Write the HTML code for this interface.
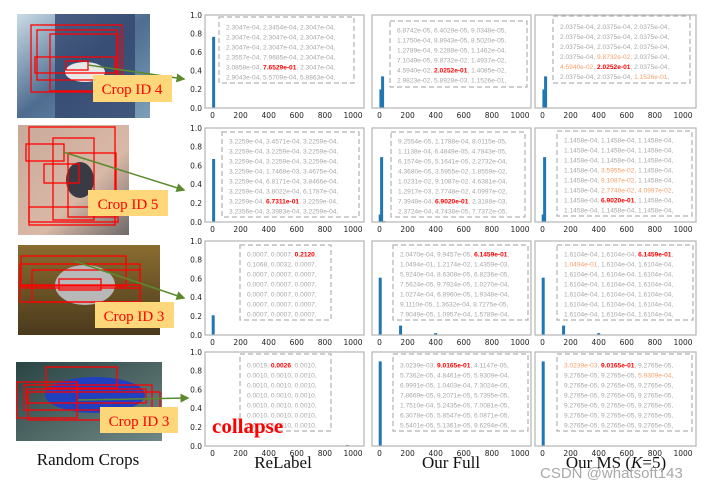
<!DOCTYPE html>
<html><head><meta charset="utf-8">
<style>
html,body{margin:0;padding:0;background:#fff;}
body{width:714px;height:487px;position:relative;overflow:hidden;font-family:"Liberation Sans",sans-serif;}
svg{position:absolute;left:0;top:0;}
</style></head>
<body>
<svg id="fig" width="714" height="487" viewBox="0 0 714 487" xmlns="http://www.w3.org/2000/svg">
<defs>
<linearGradient id="g1" x1="0" y1="0" x2="1" y2="1"><stop offset="0" stop-color="#c9dbe6"/><stop offset="0.5" stop-color="#4d6c8f"/><stop offset="1" stop-color="#7d9fb8"/></linearGradient>
<linearGradient id="g2" x1="0" y1="0" x2="1" y2="1"><stop offset="0" stop-color="#c9a99a"/><stop offset="0.6" stop-color="#d9b8a6"/><stop offset="1" stop-color="#6e6a6a"/></linearGradient>
<linearGradient id="g3" x1="0" y1="0" x2="0" y2="1"><stop offset="0" stop-color="#8a6c30"/><stop offset="1" stop-color="#4a3a1c"/></linearGradient>
<linearGradient id="g4" x1="0" y1="0" x2="1" y2="1"><stop offset="0" stop-color="#2a4444"/><stop offset="1" stop-color="#6f8784"/></linearGradient>
<marker id="arr" markerWidth="6" markerHeight="6" refX="5" refY="3" orient="auto"><path d="M0,0 L6,3 L0,6 z" fill="#5b8a2e"/></marker>
</defs>

<g>
<rect x="17" y="14" width="133" height="104" fill="url(#g1)"/>
<rect x="55" y="14" width="80" height="104" fill="#33466e" opacity="0.8"/>
<ellipse cx="85" cy="72" rx="20" ry="10" fill="#e8e8e8"/>
<g fill="none" stroke="#f00" stroke-width="1.3">
<rect x="31" y="25" width="91" height="67"/><rect x="37" y="30" width="80" height="50"/><rect x="50" y="34" width="68" height="57"/><rect x="35" y="57" width="80" height="16"/><rect x="66" y="61" width="22" height="9"/></g>
</g>
<g>
<rect x="18" y="125" width="111" height="110" fill="url(#g2)"/>
<ellipse cx="80" cy="180" rx="14" ry="18" fill="#3a3a44"/>
<g fill="none" stroke="#f00" stroke-width="1.3">
<rect x="29" y="127" width="86" height="98"/><rect x="53" y="138" width="41" height="82"/><rect x="68" y="153" width="48" height="64"/><rect x="26" y="144" width="38" height="17"/><rect x="44" y="164" width="35" height="19"/><rect x="29" y="207" width="89" height="15"/></g>
</g>
<g>
<rect x="18" y="245" width="142" height="90" fill="url(#g3)"/>
<ellipse cx="85" cy="285" rx="30" ry="20" fill="#b8b8b8"/>
<g fill="none" stroke="#f00" stroke-width="1.3">
<rect x="21" y="256" width="105" height="30"/><rect x="20" y="264" width="120" height="38"/><rect x="32" y="270" width="108" height="32"/><rect x="59" y="279" width="42" height="11"/><rect x="22" y="285" width="118" height="3"/></g>
</g>
<g>
<rect x="16" y="362" width="146" height="79" fill="url(#g4)"/>
<ellipse cx="95" cy="395" rx="50" ry="18" fill="#2040c0"/>
<g fill="none" stroke="#f00" stroke-width="1.3">
<rect x="46" y="367" width="71" height="21"/><rect x="17" y="382" width="60" height="36"/><rect x="24" y="385" width="128" height="25"/><rect x="27" y="389" width="119" height="14"/><rect x="28" y="392" width="132" height="28"/></g>
</g>

<g stroke="#5b8a2e" stroke-width="1.5" fill="none">
<line x1="88" y1="65" x2="184" y2="79" marker-end="url(#arr)"/>
<line x1="63" y1="152" x2="184" y2="190" marker-end="url(#arr)"/>
<line x1="74" y1="261" x2="184" y2="298" marker-end="url(#arr)"/>
<line x1="78" y1="400" x2="188" y2="398" marker-end="url(#arr)"/>
</g>

<g font-family="Liberation Serif, serif" font-size="15" fill="#f00">
<rect x="93" y="75" width="79" height="27" fill="#fdd77a"/>
<text x="132" y="94" text-anchor="middle">Crop ID 4</text>
<rect x="88" y="190" width="80" height="26" fill="#fdd77a"/>
<text x="128" y="209" text-anchor="middle">Crop ID 5</text>
<rect x="95" y="302" width="79" height="26" fill="#fdd77a"/>
<text x="134" y="321" text-anchor="middle">Crop ID 3</text>
<rect x="100" y="407" width="78" height="26" fill="#fdd77a"/>
<text x="139" y="426" text-anchor="middle">Crop ID 3</text>
</g>

<g id="charts"></g>
<g id="boxes"></g>

<text x="212" y="433" font-family="Liberation Serif, serif" font-weight="bold" font-size="21" fill="#f00">collapse</text>

<g font-family="Liberation Serif, serif" font-size="17" fill="#111" text-anchor="middle">
<text x="88" y="465">Random Crops</text>
<text x="283" y="468">ReLabel</text>
<text x="451" y="468">Our Full</text>
<text x="616" y="468">Our MS (<tspan font-style="italic">K</tspan>=5)</text>
</g>
<text x="540" y="478" font-family="Liberation Sans, sans-serif" font-size="15" fill="#9a9a9a" opacity="0.85">CSDN @whatsoft143</text>
</svg>

<script>
const xTicks = [0, 200, 400, 600, 800, 1000];
const yTicks = [0.0, 0.2, 0.4, 0.6, 0.8, 1.0];
const relabelBins = [[8], [8], [5], [230, 920, 960]];
const relabelVals = [[0.765], [0.67], [0.21], [0.005, 0.005, 0.01]];
const fullBins = [[10, 22, 100, 340], [5, 15, 30], [5, 150, 400], [5]];
const fullVals = [[0.2, 0.34, 0.005, 0.005], [0.08, 0.69, 0.01], [0.61, 0.1, 0.02], [0.90]];
const msBins = [[10, 22], [5, 15], [5, 150, 400], [5]];
const msVals = [[0.2, 0.34], [0.08, 0.69], [0.61, 0.1, 0.02], [0.90]];

const NS = "http://www.w3.org/2000/svg";
const colLeft = [205, 372, 535];
const colRight = [364, 531, 696];
const rowTop = [15, 128, 241, 352];
const rowBot = [108, 222, 335, 446];
const g = document.getElementById('charts');
function mk(tag, attrs, parent) { const e = document.createElementNS(NS, tag); for (const k in attrs) e.setAttribute(k, attrs[k]); parent.appendChild(e); return e; }
function xScale(c, v) { return colLeft[c] + 7.5 + v * 0.1405; }
function yScale(r, v) { return rowBot[r] - v * (rowBot[r] - rowTop[r]); }
const binsByCol = [relabelBins, fullBins, msBins];
const valsByCol = [relabelVals, fullVals, msVals];
const colNames = ['relabel', 'full', 'ms'];
for (let r = 0; r < 4; r++) {
  for (let c = 0; c < 3; c++) {
    const pg = mk('g', {}, g);
    
    
    const bins = binsByCol[c][r], vals = valsByCol[c][r];
    for (let i = 0; i < bins.length; i++) {
      const y = yScale(r, vals[i]);
      const b = mk('rect', { x: xScale(c, bins[i]) - 1.5, y: y, width: 3, height: Math.max(rowBot[r] - y, 0.6), fill: '#1f77b4' }, pg);
      
      
    }
    const fr = mk('rect', { x: colLeft[c], y: rowTop[r], width: colRight[c] - colLeft[c], height: rowBot[r] - rowTop[r], fill: 'none', stroke: '#b5b5b5', 'stroke-width': 1.2 }, pg);
    
    
    xTicks.forEach(t => {
      const tx = mk('text', { x: xScale(c, t), y: rowBot[r] + 10, 'font-size': 7.5, 'font-family': 'DejaVu Sans, sans-serif', fill: '#222', 'text-anchor': 'middle' }, pg);
      tx.textContent = t;
      
      
    });
    if (c === 0) {
      yTicks.forEach(t => {
        const ty = mk('text', { x: 202, y: yScale(r, t) + 2.8, 'font-size': 7.5, 'font-family': 'DejaVu Sans, sans-serif', fill: '#222', 'text-anchor': 'end' }, pg);
        ty.textContent = t.toFixed(1);
        
        
      });
    }
  }
}

const G = '#a8a8a8', R = '#f00', O = '#f5a06a';
const boxes = [
 {x:219,y:17,w:135,h:66,ty:27,lines:[
  [[G,'2.3047e-04, 2.3454e-04, 2.3047e-04,']],[[G,'2.3047e-04, 2.3047e-04, 2.3047e-04,']],[[G,'2.3047e-04, 2.3047e-04, 2.3047e-04,']],[[G,'2.3557e-04, 7.9685e-04, 2.3047e-04,']],[[G,'3.0858e-04, '],[R,'7.6529e-01'],[G,', 2.3047e-04,']],[[G,'2.9043e-04, 5.5709e-04, 5.8863e-04,']]]},
 {x:390,y:21,w:137,h:66,ty:30,lines:[
  [[G,'6.8742e-05, 6.4029e-05, 9.0348e-05,']],[[G,'1.1750e-04, 8.8943e-05, 8.5020e-05,']],[[G,'1.2789e-04, 9.2288e-05, 1.1462e-04,']],[[G,'7.1049e-05, 9.8732e-02, 1.4937e-02,']],[[G,'4.5940e-02, '],[R,'2.0252e-01'],[G,', 1.4085e-02,']],[[G,'2.9823e-02, 5.8928e-03, 1.1526e-01,']]]},
 {x:553,y:16,w:137,h:67,ty:26.5,lines:[
  [[G,'2.0375e-04, 2.0375e-04, 2.0375e-04,']],[[G,'2.0375e-04, 2.0375e-04, 2.0375e-04,']],[[G,'2.0375e-04, 2.0375e-04, 2.0375e-04,']],[[G,'2.0375e-04, '],[O,'9.8732e-02'],[G,', 2.0375e-04,']],[[O,'4.5940e-02'],[G,', '],[R,'2.0252e-01'],[G,', 2.0375e-04,']],[[G,'2.0375e-04, 2.0375e-04, '],[O,'1.1526e-01'],[G,',']]]},
 {x:222,y:132,w:137,h:85,ty:141,lines:[
  [[G,'3.2259e-04, 3.4571e-04, 3.2259e-04,']],[[G,'3.2259e-04, 3.2259e-04, 3.2259e-04,']],[[G,'3.2259e-04, 3.2259e-04, 3.2259e-04,']],[[G,'3.2259e-04, 1.7468e-03, 3.4675e-04,']],[[G,'3.2259e-04, 6.8171e-04, 3.8466e-04,']],[[G,'3.2259e-04, 3.8022e-04, 6.1787e-04,']],[[G,'3.2259e-04, '],[R,'6.7311e-01'],[G,', 3.2259e-04,']],[[G,'3.2356e-04, 3.3983e-04, 3.2259e-04,']]]},
 {x:391,y:132,w:134,h:85,ty:141,lines:[
  [[G,'9.2554e-05, 1.1788e-04, 8.0115e-05,']],[[G,'1.1138e-04, 6.4849e-05, 4.7843e-05,']],[[G,'6.1574e-05, 5.1641e-05, 2.2732e-04,']],[[G,'4.3680e-05, 3.5955e-02, 1.8559e-02,']],[[G,'1.0231e-02, 9.1087e-02, 4.6381e-04,']],[[G,'1.2917e-03, 2.7748e-02, 4.0997e-02,']],[[G,'7.3948e-04, '],[R,'6.9020e-01'],[G,', 2.3188e-03,']],[[G,'2.3724e-04, 4.7438e-05, 7.7372e-05,']]]},
 {x:557,y:131,w:135,h:85,ty:140,lines:[
  [[G,'1.1458e-04, 1.1458e-04, 1.1458e-04,']],[[G,'1.1458e-04, 1.1458e-04, 1.1458e-04,']],[[G,'1.1458e-04, 1.1458e-04, 1.1458e-04,']],[[G,'1.1458e-04, '],[O,'3.5955e-02'],[G,', 1.1458e-04,']],[[G,'1.1458e-04, '],[O,'9.1087e-02'],[G,', 1.1458e-04,']],[[G,'1.1458e-04, '],[O,'2.7748e-02'],[G,', '],[O,'4.0997e-02'],[G,',']],[[G,'1.1458e-04, '],[R,'6.9020e-01'],[G,', 1.1458e-04,']],[[G,'1.1458e-04, 1.1458e-04, 1.1458e-04,']]]},
 {x:240,y:245,w:91,h:75,ty:254,lines:[
  [[G,'0.0007, 0.0007, '],[R,'0.2120'],[G,',']],[[G,'0.1068, 0.0032, 0.0007,']],[[G,'0.0007, 0.0007, 0.0007,']],[[G,'0.0007, 0.0007, 0.0007,']],[[G,'0.0007, 0.0007, 0.0007,']],[[G,'0.0007, 0.0007, 0.0007,']],[[G,'0.0007, 0.0007, 0.0007,']]]},
 {x:393,y:245,w:135,h:75,ty:254,lines:[
  [[G,'2.0470e-04, 9.9457e-05, '],[R,'6.1459e-01'],[G,',']],[[G,'1.0494e-01, 1.2174e-02, 1.4359e-03,']],[[G,'5.9240e-04, 8.6308e-05, 6.8236e-05,']],[[G,'7.5624e-05, 9.7924e-05, 1.0270e-04,']],[[G,'1.0274e-04, 6.8960e-05, 1.9348e-04,']],[[G,'9.1110e-05, 1.3632e-04, 8.7275e-05,']],[[G,'7.9049e-05, 1.0957e-04, 1.5789e-04,']]]},
 {x:557,y:245,w:136,h:75,ty:254,lines:[
  [[G,'1.6104e-04, 1.6104e-04, '],[R,'6.1459e-01'],[G,',']],[[O,'1.0494e-01'],[G,', 1.6104e-04, 1.6104e-04,']],[[G,'1.6104e-04, 1.6104e-04, 1.6104e-04,']],[[G,'1.6104e-04, 1.6104e-04, 1.6104e-04,']],[[G,'1.6104e-04, 1.6104e-04, 1.6104e-04,']],[[G,'1.6104e-04, 1.6104e-04, 1.6104e-04,']],[[G,'1.6104e-04, 1.6104e-04, 1.6104e-04,']]]},
 {x:240,y:354,w:91,h:77,ty:365,lines:[
  [[G,'0.0019, '],[R,'0.0026'],[G,', 0.0010,']],[[G,'0.0010, 0.0010, 0.0010,']],[[G,'0.0010, 0.0010, 0.0010,']],[[G,'0.0010, 0.0010, 0.0010,']],[[G,'0.0010, 0.0010, 0.0010,']],[[G,'0.0010, 0.0010, 0.0010,']],[[G,'0.0010, 0.0010, 0.0010,']]]},
 {x:393,y:354,w:135,h:77,ty:365,lines:[
  [[G,'3.0239e-03, '],[R,'9.0165e-01'],[G,', 4.1147e-05,']],[[G,'5.7362e-05, 4.8461e-05, 5.9309e-04,']],[[G,'6.9991e-05, 1.0403e-04, 7.3024e-05,']],[[G,'7.8669e-05, 9.2071e-05, 5.7395e-05,']],[[G,'1.7510e-04, 5.2435e-05, 7.0081e-05,']],[[G,'6.3078e-05, 5.8547e-05, 6.0871e-05,']],[[G,'5.5401e-05, 5.1361e-05, 9.6294e-05,']]]},
 {x:557,y:354,w:135,h:77,ty:365,lines:[
  [[O,'3.0239e-03'],[G,', '],[R,'9.0165e-01'],[G,', 9.2765e-05,']],[[G,'9.2765e-05, 9.2765e-05, '],[O,'5.9309e-04'],[G,',']],[[G,'9.2765e-05, 9.2765e-05, 9.2765e-05,']],[[G,'9.2765e-05, 9.2765e-05, 9.2765e-05,']],[[G,'9.2765e-05, 9.2765e-05, 9.2765e-05,']],[[G,'9.2765e-05, 9.2765e-05, 9.2765e-05,']],[[G,'9.2765e-05, 9.2765e-05, 9.2765e-05,']]]}
];
const bg = document.getElementById('boxes');
boxes.forEach((b) => {
  const grp = mk('g', {}, bg);
  
  
  mk('rect', { x: b.x, y: b.y, width: b.w, height: b.h, fill: 'none', stroke: '#b0b0b0', 'stroke-width': 1.2, 'stroke-dasharray': '5,3' }, grp);
  b.lines.forEach((ln, li) => {
    const t = mk('text', { x: b.x + 7, y: b.ty + li * 10 + 2.3, 'font-size': 6.6, 'font-family': 'Liberation Sans, sans-serif' }, grp);
    
    
    ln.forEach(seg => {
      const s = mk('tspan', { fill: seg[0] }, t);
      if (seg[0] === R) s.setAttribute('font-weight', 'bold');
      s.textContent = seg[1];
    });
  });
});
</script>
</body></html>
